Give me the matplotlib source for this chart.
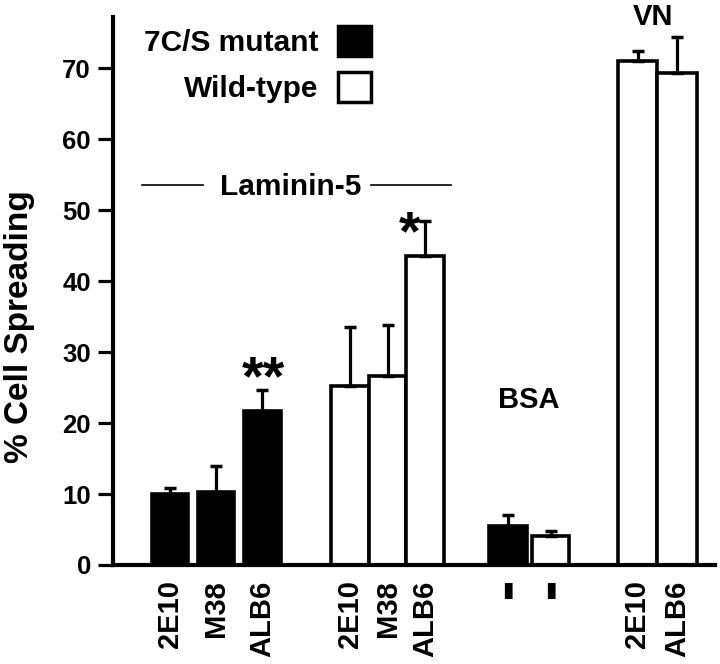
import matplotlib
matplotlib.use("Agg")
import matplotlib.pyplot as plt
from matplotlib.patches import Patch
import numpy as np

# ---------------- data ----------------
lam_labels = ["2E10", "M38", "ALB6"]
mutant_lam = [10.0, 10.3, 21.7]
mutant_lam_err = [0.9, 3.7, 3.0]
wt_lam = [25.2, 26.7, 43.6]
wt_lam_err = [8.3, 7.2, 4.9]
bsa_labels = ["\u25AE", "\u25AE"]
bsa_values = [5.5, 4.1]
bsa_err = [1.55, 0.7]
vn_labels = ["2E10", "ALB6"]
vn_wt = [71.1, 69.4]
vn_wt_err = [1.4, 5.0]
yticks = [0, 10, 20, 30, 40, 50, 60, 70]
legend_labels = ["7C/S mutant", "Wild-type"]

# ---------------- layout ----------------
plt.rcParams["font.family"] = ["Liberation Sans", "DejaVu Sans"]
plt.rcParams["font.weight"] = "bold"

W, H = 720, 664
fig = plt.figure(figsize=(W / 100, H / 100), dpi=100)
ax = fig.add_axes([113 / W, 99 / H, 602 / W, 548.3 / H])
ax.set_xlim(0, 602)
ax.set_ylim(0, 77.3)

def positions(start, pitch, n):
    return [start + i * pitch for i in range(n)]

x_mut = positions(57, 46.2, 3)
x_wt = positions(237, 37.5, 3)
x_bsa = positions(395, 42.5, 2)
x_vn = positions(524.5, 39.5, 2)

lw = 2.6
ax.bar(x_mut, mutant_lam, width=36.5, color="black", edgecolor="black", linewidth=lw, zorder=2)
ax.bar(x_wt, wt_lam, width=37.5, color="white", edgecolor="black", linewidth=lw, zorder=2)
ax.bar(x_bsa, bsa_values, width=37.5, color=["black", "white"], edgecolor="black", linewidth=lw, zorder=2)
ax.bar(x_vn, vn_wt, width=39.5, color="white", edgecolor="black", linewidth=lw, zorder=2)

ekw = dict(fmt="none", ecolor="black", elinewidth=2.3, capsize=4.2, capthick=2.5, zorder=3)
for xs, ys, es in [(x_mut, mutant_lam, mutant_lam_err), (x_wt, wt_lam, wt_lam_err),
                   (x_bsa, bsa_values, bsa_err), (x_vn, vn_wt, vn_wt_err)]:
    ax.errorbar(xs, ys, yerr=[np.zeros(len(es)), es], **ekw)

# axes style
for s in ["top", "right"]:
    ax.spines[s].set_visible(False)
for s in ["left", "bottom"]:
    ax.spines[s].set_linewidth(3)
ax.set_yticks(yticks)
ax.tick_params(axis="y", direction="out", length=11, width=2.3, labelsize=18.5, pad=5)

xt = x_mut + x_wt + x_bsa + x_vn
xl = lam_labels + lam_labels + bsa_labels + vn_labels
ax.set_xticks(xt)
ax.set_xticklabels(xl, fontsize=21, fontweight="bold")
ax.tick_params(axis="x", length=0, pad=11)
for lab in ax.get_xticklabels():
    if lab.get_text() == "\u25AE":
        lab.set_rotation(0)
        lab.set_fontfamily("DejaVu Sans")
        lab.set_fontsize(15)
    else:
        lab.set_rotation(90)
for lab in ax.get_yticklabels():
    lab.set_fontweight("bold")

ax.set_ylabel("% Cell Spreading", fontsize=24, fontweight="bold")
ax.yaxis.set_label_coords(-0.130, 0.434)

# legend
handles = [Patch(facecolor="black", edgecolor="black", linewidth=2.5),
           Patch(facecolor="white", edgecolor="black", linewidth=2.5)]
leg = ax.legend(handles, legend_labels, loc="upper right", bbox_to_anchor=(0.428, 0.983),
                frameon=False, markerfirst=False, borderpad=0, borderaxespad=0,
                handlelength=1.1, handleheight=1.15, handletextpad=0.65, labelspacing=0.5,
                prop=dict(size=21.5, weight="bold"))

# annotations
ax.plot([29, 90], [53.6, 53.6], color="black", lw=1.2)
ax.plot([258, 338], [53.6, 53.6], color="black", lw=1.2)
ax.text(177.5, 52.2, "Laminin-5", ha="center", va="baseline", fontsize=21.5, fontweight="bold")
ax.text(150, 24.0, "**", ha="center", va="baseline", fontsize=40, fontweight="bold")
ax.text(296.7, 44.5, "*", ha="center", va="baseline", fontsize=40, fontweight="bold")
ax.text(416, 22.1, "BSA", ha="center", va="baseline", fontsize=21, fontweight="bold")
ax.text(540, 76.2, "VN", ha="center", va="baseline", fontsize=21, fontweight="bold", clip_on=False)

fig.savefig("out.png", dpi=100)
